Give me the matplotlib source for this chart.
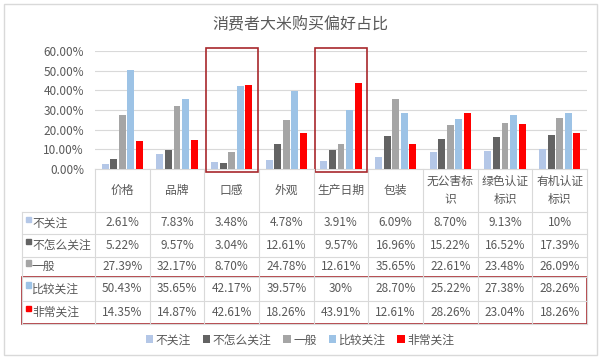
import numpy as np
import matplotlib

matplotlib.use("Agg")

import matplotlib.pyplot as plt
from matplotlib.patches import Rectangle

plt.rcParams["font.family"]=["Noto Sans CJK SC","DejaVu Sans"]

# data
categories=["价格","品牌","口感","外观","生产日期","包装","无公害标\n识","绿色认证\n标识","有机认证\n标识"]
series_names=["不关注","不怎么关注","一般","比较关注","非常关注"]
not_care=[2.61,7.83,3.48,4.78,3.91,6.09,8.70,9.13,10.0]
little_care=[5.22,9.57,3.04,12.61,9.57,16.96,15.22,16.52,17.39]
neutral=[27.39,32.17,8.70,24.78,12.61,35.65,22.61,23.48,26.09]
care=[50.43,35.65,42.17,39.57,30.0,28.70,25.22,27.38,28.26]
very_care=[14.35,14.87,42.61,18.26,43.91,12.61,28.26,23.04,18.26]
cell_text=[
    ["2.61%","7.83%","3.48%","4.78%","3.91%","6.09%","8.70%","9.13%","10%"],
    ["5.22%","9.57%","3.04%","12.61%","9.57%","16.96%","15.22%","16.52%","17.39%"],
    ["27.39%","32.17%","8.70%","24.78%","12.61%","35.65%","22.61%","23.48%","26.09%"],
    ["50.43%","35.65%","42.17%","39.57%","30%","28.70%","25.22%","27.38%","28.26%"],
    ["14.35%","14.87%","42.61%","18.26%","43.91%","12.61%","28.26%","23.04%","18.26%"],
]
colors=["#B4C7E7","#636363","#A5A5A5","#9DC3E6","#FF0000"]

TXT="#595959"
LINE="#D9D9D9"
BOX="#A8282C"

W,H=600,361
fig=plt.figure(figsize=(6,3.61),dpi=100)

# bar area in pixel units
x0,x1=95,587
y_top,y_zero=51,169
ax=fig.add_axes([x0/W,1-y_zero/H,(x1-x0)/W,(y_zero-y_top)/H])

all_vals=[not_care,little_care,neutral,care,very_care]
n=len(categories)
x=np.arange(n)
step=0.157
bw=0.125

bars=[]
for i,(vals,c,name) in enumerate(zip(all_vals,colors,series_names)):
    b=ax.bar(
        x+(i-2)*step,
        np.array(vals)/100,
        width=bw,
        color=c,
        label=name,
        zorder=3
    )
    bars.append(b)

ax.set_xlim(-0.5,n-0.5)
ax.set_ylim(0,0.6)
ax.set_yticks(np.arange(0,0.61,0.1))
ax.set_yticklabels([f"{v*100:.2f}%" for v in np.arange(0,0.61,0.1)],fontsize=8.5,color=TXT)
ax.set_xticks([])
ax.tick_params(axis="y",length=0,pad=8)
ax.grid(axis="y",color=LINE,linewidth=0.8,zorder=0)
for s in ["left","right","top"]:
    ax.spines[s].set_visible(False)
ax.spines["bottom"].set_color(LINE)
ax.spines["bottom"].set_linewidth(0.8)

# overlay for table and decorations
ov=fig.add_axes([0,0,1,1],zorder=5)
ov.set_xlim(0,W)
ov.set_ylim(H,0)
ov.axis("off")
ov.patch.set_alpha(0)

fig.text(0.5,1-25/H,"消费者大米购买偏好占比",ha="center",va="center",fontsize=11.5,color=TXT)

col_w=(x1-x0)/n
tx0=21.6
row_lines=[212,234,256.5,277,300.5,324]

# vertical lines
for i in range(n+1):
    ov.plot([x0+i*col_w]*2,[y_zero,row_lines[-1]],color=LINE,lw=0.8)
ov.plot([tx0,tx0],[row_lines[0],row_lines[-1]],color=LINE,lw=0.8)
for y in row_lines:
    ov.plot([tx0,x1],[y,y],color=LINE,lw=0.8)

# header
for i,cat in enumerate(categories):
    ov.text(x0+(i+0.5)*col_w,(y_zero+row_lines[0])/2,cat,ha="center",va="center",
            fontsize=8.5,color=TXT,linespacing=1.5)

# rows
for r,name in enumerate(series_names):
    yc=(row_lines[r]+row_lines[r+1])/2
    ov.add_patch(Rectangle((25.5,yc-6.5),5.5,5.5,color=colors[r]))
    ov.text(32,yc,name,ha="left",va="center",fontsize=8.5,color=TXT)
    for i in range(n):
        ov.text(x0+(i+0.5)*col_w,yc,cell_text[r][i],ha="center",va="center",fontsize=8.5,color=TXT)

# red highlight boxes
ov.add_patch(Rectangle((tx0,277),x1-tx0,324-277,fill=False,edgecolor=BOX,lw=1.2))
for ci in [2,4]:
    ov.add_patch(Rectangle((x0+ci*col_w+1.5,48),col_w-3,172-48,fill=False,edgecolor=BOX,lw=1.2))

# outer border
ov.add_patch(Rectangle((3.5,3.5),W-7,355-3.5,fill=False,edgecolor=LINE,lw=1))

fig.legend(
    handles=bars,
    loc="center",
    bbox_to_anchor=(0.5,1-340/H),
    ncol=5,
    frameon=False,
    prop={"size":8.5},
    handlelength=0.65,
    handleheight=0.65,
    handletextpad=0.2,
    columnspacing=1.0,
    labelcolor=TXT
)

fig.savefig("out.png",dpi=100)
